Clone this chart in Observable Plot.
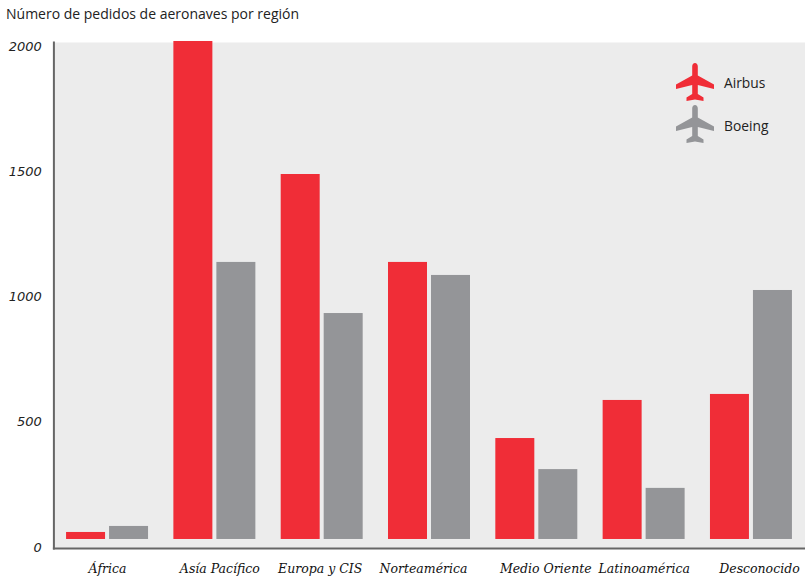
<!DOCTYPE html>
<html><head><meta charset="utf-8">
<script src="https://cdn.jsdelivr.net/npm/d3@7"></script>
<script src="https://cdn.jsdelivr.net/npm/@observablehq/plot@0.6"></script>
<style>
html,body{margin:0;padding:0;background:#fff;overflow:hidden}
#wrap{position:relative;width:805px;height:581px}
#title{height:30px;padding:4px 0 0 6px;box-sizing:border-box;font:14px "Open Sans",sans-serif;color:#222;white-space:nowrap}
#chart svg{display:block}
.leg{position:absolute;left:676px;width:38px;height:38px}
.legt{position:absolute;left:724px;font:13.8px "Open Sans",sans-serif;color:#222;line-height:18px}
</style></head><body>
<div id="wrap">
<div id="title">Número de pedidos de aeronaves por región</div>
<div id="chart"></div>
<svg class="leg" style="top:63px" viewBox="0 0 38 38"><path fill="#f02d37" d="M19 0C20.6 0 21.8 1.4 21.8 3.4V12.5L38 21.4V26L21.8 22V31L27.5 34.5V38L19 36.5L10.5 38V34.5L16.2 31V22L0 26V21.4L16.2 12.5V3.4C16.2 1.4 17.4 0 19 0Z"/></svg>
<svg class="leg" style="top:105px" viewBox="0 0 38 38"><path fill="#949598" d="M19 0C20.6 0 21.8 1.4 21.8 3.4V12.5L38 21.4V26L21.8 22V31L27.5 34.5V38L19 36.5L10.5 38V34.5L16.2 31V22L0 26V21.4L16.2 12.5V3.4C16.2 1.4 17.4 0 19 0Z"/></svg>
<div class="legt" style="top:74px">Airbus</div>
<div class="legt" style="top:117px">Boeing</div>
</div>
<script>
const regions = ["África","Asía Pacífico","Europa y CIS","Norteamérica","Medio Oriente","Latinoamérica","Desconocido"];
const airbus = [60,2020,1489,1138,435,587,611];
const boeing = [84,1138,934,1086,311,236,1026];
const labelNudge = [0,5,-2,-6,9,0,8];
const yTicks = [0,500,1000,1500,2000];
const barBase = 32;
const rows = regions.flatMap((r,i)=>[
  {region:r,maker:"Airbus",value:airbus[i]},
  {region:r,maker:"Boeing",value:boeing[i]}
]);
const top0 = 30;
const fig = Plot.plot({
  width:805, height:581-top0, marginLeft:53.4, marginRight:0.4, marginTop:42-top0, marginBottom:33,
  style:{background:"transparent",overflow:"visible"},
  fx:{domain:regions,padding:0,round:false,axis:null},
  x:{domain:["Airbus","Boeing"],paddingInner:0.093,paddingOuter:0.2945,round:false,axis:null},
  y:{domain:[0,2000],range:[547-top0,46-top0],axis:null},
  color:{domain:["Airbus","Boeing"],range:["#f02d37","#949598"]},
  marks:[
    Plot.frame({fill:"#ececec",stroke:null,facet:"super"}),
    Plot.rectY(rows,{fx:"region",x:"maker",y1:barBase,y2:"value",fill:"maker"}),
    ...regions.map((r,i)=>Plot.text([r],{fx:d=>d,frameAnchor:"bottom",dy:24,dx:labelNudge[i],text:d=>d,
      fontFamily:"DejaVu Serif",fontStyle:"italic",fontSize:12.5,fill:"#111"})),
    Plot.axisY(yTicks,{anchor:"left",tickSize:0,tickPadding:12,label:null,tickFormat:"d",fontFamily:"DejaVu Sans",fontStyle:"italic",fontSize:13,color:"#222"}),
    Plot.frame({anchor:"left",stroke:"#666",strokeWidth:2,facet:"super"}),
    Plot.frame({anchor:"bottom",stroke:"#666",strokeWidth:2,facet:"super"})
  ]
});
document.getElementById("chart").append(fig);
</script>
</body></html>
